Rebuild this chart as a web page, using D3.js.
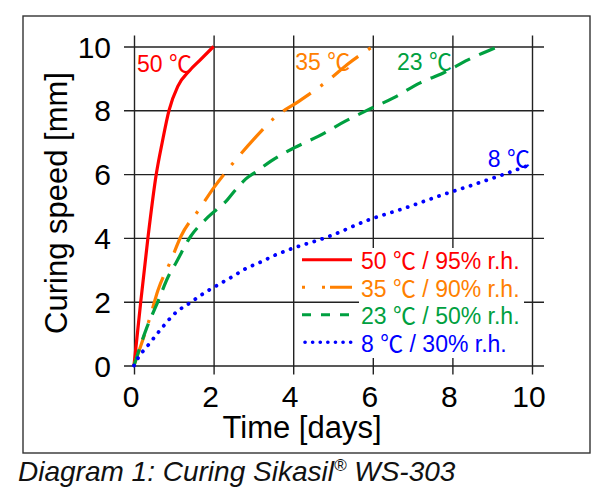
<!DOCTYPE html>
<html>
<head>
<meta charset="utf-8">
<script src="https://cdn.jsdelivr.net/npm/d3@7/dist/d3.min.js"></script>
<style>
  body { margin: 0; background: #fff; }
  text { font-family: "Liberation Sans", Arial, "Noto Sans CJK JP", sans-serif; }
</style>
</head>
<body>
<div id="chart"></div>
<script>
// Data: [days, mm]
var curve50 = [[0, 0], [0.17, 2], [0.35, 4], [0.56, 6], [0.71, 7], [0.88, 8], [1.1, 8.75], [1.4, 9.25], [1.64, 9.55], [2, 10]];
var curve35 = [[0, 0], [0.4, 1.5], [0.6, 2.35], [0.93, 3.3], [1.18, 4.05], [1.64, 4.9], [2.02, 5.6], [2.56, 6.45], [3, 7.08], [3.56, 7.8], [4.14, 8.28], [4.9, 8.96], [5.35, 9.43], [6, 10]];
var curve23 = [[0, 0], [0.31, 1.15], [0.6, 2], [0.85, 2.76], [1.06, 3.23], [1.43, 4.06], [1.85, 4.64], [2.35, 5.2], [2.56, 5.52], [2.81, 5.85], [3.1, 6.1], [3.43, 6.4], [4.02, 6.82], [4.64, 7.19], [5.31, 7.66], [5.89, 8.02], [6.52, 8.39], [7.19, 8.86], [7.77, 9.17], [8.39, 9.58], [9.15, 10]];
var curve8 = [[0, 0], [0.1, 0.23], [0.37, 0.66], [0.625, 1.06], [1.06, 1.67], [1.39, 1.95], [1.75, 2.26], [2.1, 2.52], [2.48, 2.79], [2.81, 3.04], [3.21, 3.26], [3.6, 3.49], [3.98, 3.67], [4.82, 4.01], [5.93, 4.58], [6.77, 4.92], [7.73, 5.34], [8.56, 5.68], [9.35, 6.02], [9.93, 6.28]];

var legendLabels = ["50 ℃ / 95% r.h.", "35 ℃ / 90% r.h.", "23 ℃ / 50% r.h.", "8 ℃ / 30% r.h."];
var curveLabels = ["50 ℃", "35 ℃", "23 ℃", "8 ℃"];
var curveLabelAt = [[0.075, 9.2], [4.05, 9.26], [6.61, 9.26], [8.89, 6.22]];
var xTicks = [0, 2, 4, 6, 8, 10];
var yTicks = [0, 2, 4, 6, 8, 10];

var colors = ["#ff0000", "#ff8000", "#00a040", "#0000ff"];
var dashes = [null, "33,12,3,12", "17,10", "0.1,8.2"];
var legendDashes = [null, "3,17,3,5,24", "9,10", "0.1,7.5"];
var series = [curve50, curve35, curve23, curve8];

var width = 601, height = 496;

var svg = d3.select("#chart").append("svg")
  .attr("width", width)
  .attr("height", height);

var xScale = d3.scaleLinear().domain([0, 10]).range([134, 532]);
var yScale = d3.scaleLinear().domain([0, 10]).range([365.5, 46.5]);

// frame
svg.append("rect")
  .attr("x", 23).attr("y", 16)
  .attr("width", 567).attr("height", 437)
  .attr("fill", "none")
  .attr("stroke", "#333")
  .attr("stroke-width", 1.4);

// grid, running a little past the plot on each side
var xAxis = d3.axisBottom(xScale).tickValues(xTicks).tickSize(-(yScale(0) - yScale(10)) - 20).tickFormat("");
var yAxis = d3.axisLeft(yScale).tickValues(yTicks).tickSize(-(xScale(10) - xScale(0)) - 22).tickFormat("");

svg.append("g")
  .attr("class", "grid")
  .attr("transform", "translate(0," + (yScale(0) + 9) + ")")
  .call(xAxis);

svg.append("g")
  .attr("class", "grid")
  .attr("transform", "translate(" + (xScale(0) - 10) + ",0)")
  .call(yAxis);

svg.selectAll(".grid .domain").remove();
svg.selectAll(".grid line").attr("stroke", "#222").attr("stroke-width", 1.4);

// tick labels
svg.append("g")
  .selectAll("text")
  .data(xTicks)
  .enter()
  .append("text")
  .attr("x", d => xScale(d) - 3)
  .attr("y", 406.5)
  .attr("text-anchor", "middle")
  .attr("font-size", 30)
  .text(d => d);

svg.append("g")
  .selectAll("text")
  .data(yTicks)
  .enter()
  .append("text")
  .attr("x", 111)
  .attr("y", d => yScale(d) + 11)
  .attr("text-anchor", "end")
  .attr("font-size", 30)
  .text(d => d);

// axis titles
svg.append("text")
  .attr("x", 302)
  .attr("y", 438)
  .attr("text-anchor", "middle")
  .attr("font-size", 31)
  .text("Time [days]");

svg.append("text")
  .attr("transform", "translate(67,203) rotate(-90)")
  .attr("text-anchor", "middle")
  .attr("font-size", 31)
  .text("Curing speed [mm]");

// curves
var line = d3.line()
  .x(d => xScale(d[0]))
  .y(d => yScale(d[1]))
  .curve(d3.curveMonotoneX);

svg.append("g")
  .selectAll("path")
  .data(series)
  .enter()
  .append("path")
  .attr("d", line)
  .attr("fill", "none")
  .attr("stroke", (d, i) => colors[i])
  .attr("stroke-width", (d, i) => i == 3 ? 3.8 : 3.2)
  .attr("stroke-linecap", (d, i) => i == 3 ? "round" : "butt")
  .attr("stroke-dasharray", (d, i) => dashes[i]);

// curve labels
svg.append("g")
  .selectAll("text")
  .data(curveLabels)
  .enter()
  .append("text")
  .attr("x", (d, i) => xScale(curveLabelAt[i][0]))
  .attr("y", (d, i) => yScale(curveLabelAt[i][1]))
  .attr("font-size", 23)
  .attr("fill", (d, i) => colors[i])
  .text(d => d);

// legend
var legend = svg.append("g").attr("class", "legend");

legend.append("rect")
  .attr("x", 359).attr("y", 248)
  .attr("width", 165).attr("height", 110)
  .attr("fill", "#fff");

var rows = legend.selectAll("g")
  .data(legendLabels)
  .enter()
  .append("g")
  .attr("transform", (d, i) => "translate(0," + (269.3 + i * 27.5) + ")");

rows.append("line")
  .attr("x1", (d, i) => i == 3 ? 305 : 302)
  .attr("x2", 352)
  .attr("y1", -9.5).attr("y2", -9.5)
  .attr("stroke", (d, i) => colors[i])
  .attr("stroke-width", (d, i) => i == 3 ? 3.6 : 3)
  .attr("stroke-linecap", (d, i) => i == 3 ? "round" : "butt")
  .attr("stroke-dasharray", (d, i) => legendDashes[i]);

rows.append("text")
  .attr("x", 361)
  .attr("y", 0)
  .attr("font-size", 23)
  .attr("fill", (d, i) => colors[i])
  .text(d => d);

// caption
var caption = svg.append("text")
  .attr("x", 18)
  .attr("y", 481)
  .attr("font-size", 28)
  .attr("font-style", "italic")
  .attr("fill", "#111");
caption.append("tspan").text("Diagram 1: Curing Sikasil");
caption.append("tspan").attr("font-size", 17).attr("dy", -10).text("®");
caption.append("tspan").attr("dy", 10).text(" WS-303");
</script>
</body>
</html>
